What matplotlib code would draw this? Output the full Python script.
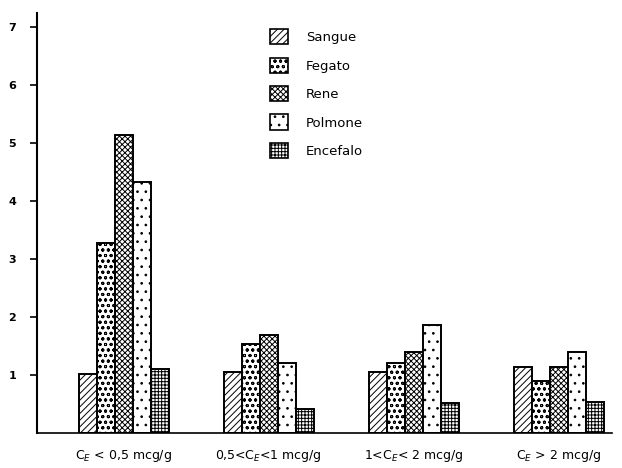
import matplotlib
matplotlib.use("Agg")
import matplotlib.pyplot as plt
from matplotlib.patches import Patch
import numpy as np

groups = [r"C$_E$ < 0,5 mcg/g", r"0,5<C$_E$<1 mcg/g", r"1<C$_E$< 2 mcg/g", r"C$_E$ > 2 mcg/g"]
series = ["Sangue", "Fegato", "Rene", "Polmone", "Encefalo"]
sangue = [1.02, 1.05, 1.05, 1.14]
fegato = [3.27, 1.53, 1.21, 0.90]
rene = [5.14, 1.69, 1.40, 1.14]
polmone = [4.33, 1.21, 1.86, 1.40]
encefalo = [1.10, 0.41, 0.52, 0.53]
yticks = [1, 2, 3, 4, 5, 6, 7]

values = [sangue, fegato, rene, polmone, encefalo]
hatches = ["/////", "ooo", "xxxxxx", "..", "+++++"]

plt.rcParams["hatch.linewidth"] = 0.7
plt.rcParams["font.family"] = ["DejaVu Sans"]

fig = plt.figure(figsize=(6.22, 4.68), dpi=100)
ax = fig.add_axes([0.0595, 0.0748, 0.925, 0.898])

x = np.arange(len(groups))
w = 0.124
for i, (name, vals, h) in enumerate(zip(series, values, hatches)):
    ax.bar(x + (i - 2) * w, vals, width=w, facecolor="white", edgecolor="black",
           hatch=h, linewidth=1.4, label=name)

ax.set_xlim(-0.6, 3.37)
ax.set_ylim(0, 7.24)
ax.set_yticks(yticks)
ax.set_yticklabels([str(t) for t in yticks], fontsize=8, fontweight="bold")
ax.tick_params(axis="y", direction="out", length=5, width=1.2, pad=10)
ax.set_xticks(x)
ax.set_xticklabels(groups, fontsize=9)
ax.tick_params(axis="x", length=0, pad=11)
ax.spines["top"].set_visible(False)
ax.spines["right"].set_visible(False)
ax.spines["left"].set_linewidth(1.5)
ax.spines["bottom"].set_linewidth(1.2)

handles = [Patch(facecolor="white", edgecolor="black", hatch=h, linewidth=1.2) for h in hatches]
fig.legend(handles, series, loc="upper left", bbox_to_anchor=(0.415, 0.963),
           frameon=False, fontsize=9.5, handlelength=1.4, handleheight=1.4,
           labelspacing=1.0, handletextpad=1.3)

fig.savefig("out.png", dpi=100)
